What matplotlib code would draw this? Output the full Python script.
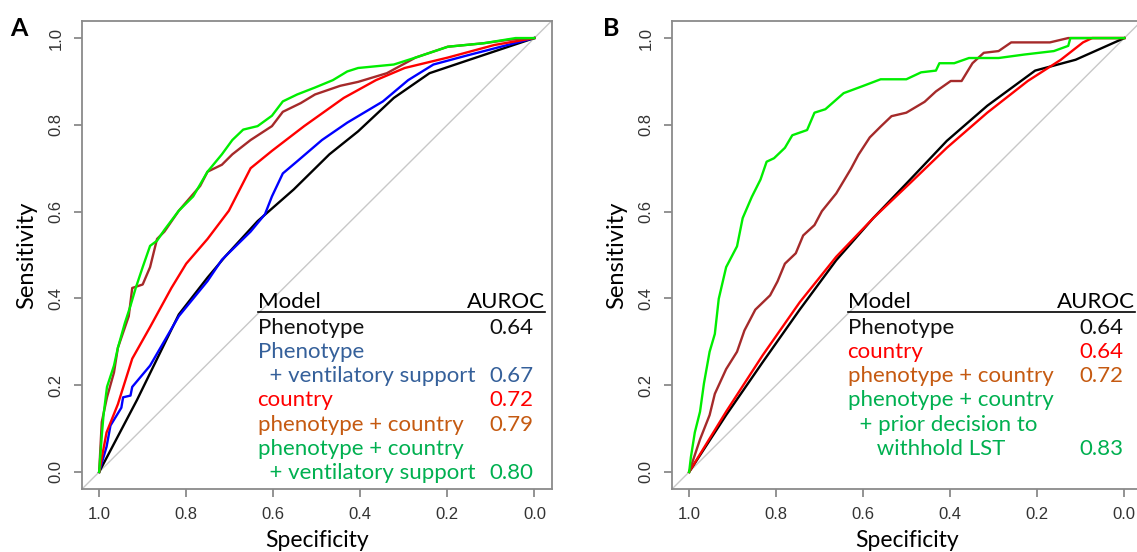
import matplotlib.pyplot as plt

# ---- Panel A: ROC curves (specificity, sensitivity) ----
a_pheno_spec = [1.0, 0.913, 0.817, 0.751, 0.71, 0.636, 0.553, 0.471, 0.405, 0.323, 0.241, 0.158, 0.0]
a_pheno_sens = [0.0, 0.166, 0.363, 0.448, 0.497, 0.578, 0.651, 0.732, 0.785, 0.862, 0.919, 0.947, 1.0]

a_vent_spec = [1.0, 0.983, 0.974, 0.949, 0.945, 0.928, 0.924, 0.883, 0.817, 0.751, 0.718, 0.652,
               0.619, 0.603, 0.578, 0.545, 0.488, 0.43, 0.348, 0.29, 0.232, 0.158, 0.0]
a_vent_sens = [0.0, 0.058, 0.107, 0.148, 0.172, 0.176, 0.196, 0.245, 0.359, 0.44, 0.489, 0.554,
               0.594, 0.635, 0.688, 0.716, 0.765, 0.805, 0.854, 0.903, 0.939, 0.959, 1.0]

a_country_spec = [1.0, 0.983, 0.957, 0.924, 0.883, 0.834, 0.8, 0.751, 0.702, 0.652, 0.603, 0.529,
                  0.438, 0.364, 0.298, 0.199, 0.092, 0.0]
a_country_sens = [0.0, 0.091, 0.156, 0.261, 0.334, 0.424, 0.48, 0.537, 0.602, 0.7, 0.74, 0.797,
                  0.862, 0.903, 0.931, 0.955, 0.984, 1.0]

a_phencty_spec = [1.0, 0.994, 0.982, 0.966, 0.957, 0.932, 0.924, 0.9, 0.883, 0.867, 0.85, 0.817,
                  0.768, 0.751, 0.718, 0.694, 0.652, 0.603, 0.578, 0.537, 0.504, 0.446, 0.405,
                  0.339, 0.273, 0.199, 0.117, 0.059, 0.0]
a_phencty_sens = [0.0, 0.115, 0.172, 0.229, 0.286, 0.359, 0.424, 0.432, 0.472, 0.537, 0.554, 0.602,
                  0.659, 0.692, 0.708, 0.732, 0.765, 0.797, 0.83, 0.85, 0.87, 0.89, 0.899,
                  0.919, 0.955, 0.98, 0.988, 0.996, 1.0]

a_full_spec = [1.0, 0.994, 0.99, 0.982, 0.966, 0.957, 0.941, 0.928, 0.916, 0.9, 0.883, 0.867, 0.85,
               0.817, 0.784, 0.751, 0.718, 0.694, 0.669, 0.636, 0.603, 0.578, 0.545, 0.504, 0.463,
               0.43, 0.405, 0.323, 0.273, 0.199, 0.117, 0.043, 0.0]
a_full_sens = [0.0, 0.083, 0.131, 0.196, 0.245, 0.286, 0.343, 0.383, 0.424, 0.472, 0.521, 0.533, 0.558,
               0.602, 0.635, 0.692, 0.732, 0.765, 0.789, 0.797, 0.821, 0.854, 0.87, 0.886, 0.903,
               0.923, 0.931, 0.939, 0.955, 0.98, 0.988, 1.0, 1.0]

# ---- Panel B ----
b_pheno_spec = [1.0, 0.915, 0.831, 0.746, 0.662, 0.577, 0.492, 0.408, 0.315, 0.205, 0.112, 0.0]
b_pheno_sens = [0.0, 0.131, 0.253, 0.374, 0.488, 0.585, 0.674, 0.763, 0.844, 0.925, 0.95, 1.0]

b_country_spec = [1.0, 0.915, 0.831, 0.746, 0.662, 0.577, 0.492, 0.408, 0.315, 0.222, 0.146, 0.095, 0.074, 0.0]
b_country_sens = [0.0, 0.139, 0.269, 0.391, 0.496, 0.585, 0.666, 0.747, 0.828, 0.901, 0.95, 0.99, 1.0, 1.0]

b_phencty_spec = [1.0, 0.975, 0.953, 0.941, 0.915, 0.89, 0.873, 0.848, 0.814, 0.797, 0.78, 0.755, 0.738,
                  0.712, 0.695, 0.662, 0.628, 0.611, 0.585, 0.56, 0.535, 0.501, 0.459, 0.433, 0.399,
                  0.374, 0.349, 0.323, 0.289, 0.26, 0.171, 0.129, 0.0]
b_phencty_sens = [0.0, 0.075, 0.131, 0.18, 0.237, 0.277, 0.326, 0.374, 0.407, 0.439, 0.48, 0.504, 0.545,
                  0.569, 0.601, 0.642, 0.699, 0.731, 0.771, 0.796, 0.82, 0.828, 0.853, 0.877, 0.901,
                  0.901, 0.942, 0.966, 0.97, 0.99, 0.99, 1.0, 1.0]

b_full_spec = [1.0, 0.996, 0.987, 0.975, 0.966, 0.953, 0.941, 0.932, 0.915, 0.89, 0.877, 0.856, 0.836,
               0.822, 0.805, 0.78, 0.763, 0.729, 0.712, 0.687, 0.645, 0.602, 0.56, 0.501, 0.467,
               0.433, 0.425, 0.391, 0.357, 0.289, 0.23, 0.162, 0.129, 0.124, 0.0]
b_full_sens = [0.0, 0.034, 0.091, 0.139, 0.204, 0.277, 0.318, 0.399, 0.472, 0.52, 0.585, 0.634, 0.674,
               0.715, 0.723, 0.747, 0.776, 0.788, 0.828, 0.836, 0.873, 0.889, 0.905, 0.905, 0.921,
               0.925, 0.942, 0.942, 0.954, 0.954, 0.962, 0.97, 0.982, 1.0, 1.0]

# legend tables: (model text, AUROC text, text colour)
a_rows = [("Phenotype", "0.64", "#111111"),
          ("Phenotype", "", "#35609A"),
          ("  + ventilatory support", "0.67", "#35609A"),
          ("country", "0.72", "#FF0000"),
          ("phenotype + country", "0.79", "#C55A11"),
          ("phenotype + country", "", "#00B050"),
          ("  + ventilatory support", "0.80", "#00B050")]
b_rows = [("Phenotype", "0.64", "#111111"),
          ("country", "0.64", "#FF0000"),
          ("phenotype + country", "0.72", "#C55A11"),
          ("phenotype + country", "", "#00B050"),
          ("  + prior decision to", "", "#00B050"),
          ("     withhold LST", "0.83", "#00B050")]

ticks = [1.0, 0.8, 0.6, 0.4, 0.2, 0.0]
ticklabels = ["1.0", "0.8", "0.6", "0.4", "0.2", "0.0"]

fig = plt.figure(figsize=(11.37, 5.52), dpi=100)
axA = fig.add_axes([0.0719, 0.1136, 0.4134, 0.8489])
axB = fig.add_axes([0.5908, 0.1136, 0.4134, 0.8489])

txtfont = ['Lato', 'DejaVu Sans']


def panel(ax, curves, rows, letter, letter_x):
    ax.axline((1, 0), (0, 1), color='#C8C8C8', lw=1.0, zorder=1)
    for spec, sens, col in curves:
        ax.plot(spec, sens, color=col, lw=1.7, zorder=2)
    ax.set_xlim(1.04, -0.04)
    ax.set_ylim(-0.04, 1.04)
    ax.set_xticks(ticks)
    ax.set_xticklabels(ticklabels)
    ax.set_yticks(ticks)
    ax.set_yticklabels(ticklabels, rotation=90, va='center')
    for sp in ax.spines.values():
        sp.set_color('#8A8A8A')
        sp.set_linewidth(1.3)
    ax.tick_params(colors='#8A8A8A', length=6, width=1.3, labelcolor='#333333',
                   labelsize=12, pad=7)
    for lab in ax.get_xticklabels() + ax.get_yticklabels():
        lab.set_family('Liberation Sans')
    ax.set_xlabel('Specificity', family=txtfont, fontsize=16.5, va='baseline')
    ax.xaxis.set_label_coords(0.5, -0.123)
    ax.set_ylabel('Sensitivity', family=txtfont, fontsize=17, va='center')
    ax.yaxis.set_label_coords(-0.118, 0.5)

    # legend-like table inside the plot
    x0, x1, xv = 0.636, -0.024, 0.003
    ax.text(x0, 0.378, 'Model', family=txtfont, fontsize=16, va='baseline', ha='left')
    ax.text(x1, 0.378, 'AUROC', family=txtfont, fontsize=16, va='baseline', ha='right')
    ax.plot([x0, x1], [0.368, 0.368], color='black', lw=1.2, zorder=3)
    y = 0.318
    for name, auc, col in rows:
        ax.text(x0, y, name, family=txtfont, fontsize=16, color=col, va='baseline', ha='left')
        if auc:
            ax.text(xv, y, auc, family=txtfont, fontsize=16, color=col, va='baseline', ha='right')
        y -= 0.0557
    fig.text(letter_x, 1 - 28 / 552, letter, fontsize=18, fontweight='bold',
             family=txtfont, ha='center', va='center')


panel(axA, [(a_pheno_spec, a_pheno_sens, 'black'),
            (a_vent_spec, a_vent_sens, '#0000FF'),
            (a_country_spec, a_country_sens, '#FF0000'),
            (a_phencty_spec, a_phencty_sens, '#A52A2A'),
            (a_full_spec, a_full_sens, '#00EE00')],
      a_rows, 'A', 19 / 1137)
panel(axB, [(b_pheno_spec, b_pheno_sens, 'black'),
            (b_country_spec, b_country_sens, '#FF0000'),
            (b_phencty_spec, b_phencty_sens, '#A52A2A'),
            (b_full_spec, b_full_sens, '#00EE00')],
      b_rows, 'B', 611 / 1137)

fig.savefig('out.png', dpi=100)
